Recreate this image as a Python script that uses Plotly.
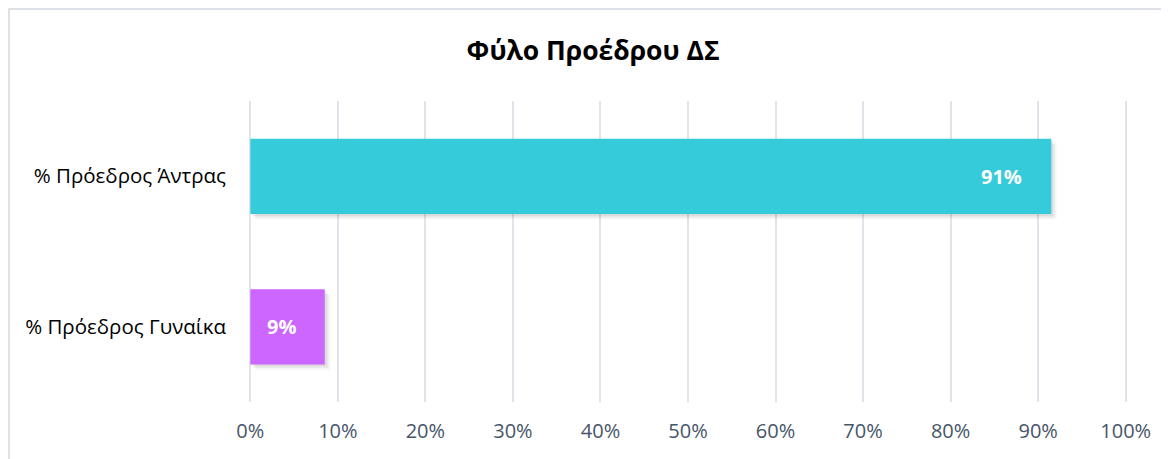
import plotly.graph_objects as go

categories = ["% Πρόεδρος Άντρας", "% Πρόεδρος Γυναίκα"]
values = [0.915, 0.085]
labels = ["91%", "9%"]
colors = ["#36CBDB", "#CC66FF"]
tick_vals = [i / 10 for i in range(11)]
tick_text = [f"{i*10}%" for i in range(11)]
title = "Φύλο Προέδρου ΔΣ"

fig = go.Figure()

# soft drop shadow layers
for k, op in enumerate([0.06, 0.05, 0.04]):
    fig.add_trace(go.Bar(
        y=categories, x=values, orientation="h",
        marker=dict(color=f"rgba(0,0,0,{op})", line=dict(width=0)),
        width=0.5, offset=-0.25 + 0.012 * (k + 1),
        base=[0.002 * (k + 1)] * len(values),
        hoverinfo="skip", showlegend=False,
    ))

fig.add_trace(go.Bar(
    y=categories, x=values, orientation="h",
    marker=dict(color=colors, line=dict(width=0)),
    width=0.5, offset=-0.25,
    showlegend=False,
))

for c, v, t in zip(categories, values, labels):
    fig.add_annotation(
        x=v, y=c, text=f"<b>{t}</b>", showarrow=False,
        xanchor="right", xshift=-27,
        font=dict(family="Open Sans", size=20, color="white"),
    )

fig.update_layout(
    width=1161, height=451,
    margin=dict(l=241, r=42, t=93, b=57),
    paper_bgcolor="white", plot_bgcolor="white",
    barmode="overlay",
    title=dict(text=f"<b>{title}</b>", x=0.504, xanchor="center", y=0.905, yanchor="middle",
               font=dict(family="Open Sans", size=26.5, color="black")),
    xaxis=dict(range=[-0.0015, 1.0015], tickvals=tick_vals, ticktext=tick_text,
               showgrid=True, gridcolor="#E1E4EB", gridwidth=2,
               zeroline=True, zerolinecolor="#E1E4EB", zerolinewidth=2,
               showline=False, ticks="", ticklabelstandoff=15,
               tickfont=dict(family="Open Sans", size=20, color="#475569")),
    yaxis=dict(autorange="reversed", showgrid=False, zeroline=False, showline=False,
               ticks="", ticklabelstandoff=22,
               tickfont=dict(family="Open Sans", size=20.5, color="black")),
    shapes=[dict(type="rect", xref="paper", yref="paper",
                 xsizemode="pixel", ysizemode="pixel", xanchor=0, yanchor=1,
                 x0=-240, x1=1000, y0=-1000, y1=92,
                 line=dict(color="#DEE1E8", width=2), fillcolor="rgba(0,0,0,0)",
                 layer="below")],
)

fig.write_html("out.html")
